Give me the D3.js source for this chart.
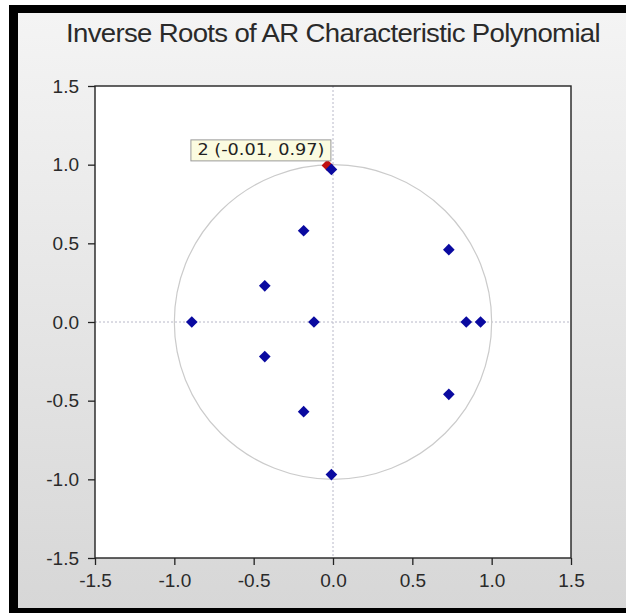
<!DOCTYPE html>
<html>
<head>
<meta charset="utf-8">
<script src="https://cdn.jsdelivr.net/npm/d3@7"></script>
<style>
  html, body { margin: 0; padding: 0; background: #fff; }
  svg { display: block; }
</style>
</head>
<body>
<div id="chart"></div>
<script>
const rootIds = [1, 2, 3, 4, 5, 6, 7, 8, 9, 10, 11, 12]
const rootRe = [-0.01, -0.01, 0.93, 0.84, 0.73, 0.73, -0.185, -0.185, -0.43, -0.43, -0.12, -0.89]
const rootIm = [-0.97, 0.97, 0.0, 0.0, 0.46, -0.46, 0.58, -0.57, 0.23, -0.22, 0.0, 0.0]
const tickValues = [-1.5, -1.0, -0.5, 0.0, 0.5, 1.0, 1.5]
const hoveredId = 2
const title = "Inverse Roots of AR Characteristic Polynomial"

const W = 626, H = 613
const plot = { left: 95, right: 571, top: 86, bottom: 558 }

const svg = d3.select("#chart").append("svg")
    .attr("width", W)
    .attr("height", H)
    .style("font-family", "'Liberation Sans', Arial, sans-serif")

const defs = svg.append("defs")
const grad = defs.append("linearGradient")
    .attr("id", "bg")
    .attr("x1", 0).attr("y1", 0).attr("x2", 0).attr("y2", 1)
grad.append("stop").attr("offset", "0%").attr("stop-color", "#f4f4f4")
grad.append("stop").attr("offset", "100%").attr("stop-color", "#d7d7d7")

// frame: black strip on top, left and bottom
svg.append("rect").attr("x", 9).attr("y", 5).attr("width", W - 9).attr("height", H - 5).attr("fill", "#000")
svg.append("rect").attr("x", 18).attr("y", 13).attr("width", W - 18).attr("height", 595).attr("fill", "url(#bg)")

svg.append("text")
    .attr("x", 333)
    .attr("y", 42)
    .attr("text-anchor", "middle")
    .attr("textLength", 534)
    .attr("lengthAdjust", "spacingAndGlyphs")
    .style("font-size", "25px")
    .style("letter-spacing", "-0.6px")
    .attr("fill", "#2a2a2a")
    .text(title)

const x = d3.scaleLinear().domain([-1.5, 1.5]).range([plot.left, plot.right])
const y = d3.scaleLinear().domain([-1.5, 1.5]).range([plot.bottom, plot.top])

svg.append("rect")
    .attr("x", plot.left)
    .attr("y", plot.top)
    .attr("width", plot.right - plot.left)
    .attr("height", plot.bottom - plot.top)
    .attr("fill", "#fff")

// zero lines
svg.append("line")
    .attr("x1", x(0)).attr("x2", x(0))
    .attr("y1", plot.top).attr("y2", plot.bottom)
    .attr("stroke", "#b8b8c8").attr("stroke-dasharray", "2,2")
svg.append("line")
    .attr("x1", plot.left).attr("x2", plot.right)
    .attr("y1", y(0)).attr("y2", y(0))
    .attr("stroke", "#b8b8c8").attr("stroke-dasharray", "2,2")

// unit circle
svg.append("ellipse")
    .attr("cx", x(0)).attr("cy", y(0))
    .attr("rx", x(1) - x(0)).attr("ry", y(0) - y(1))
    .attr("fill", "none")
    .attr("stroke", "#cbcbcb")
    .attr("stroke-width", 1.2)

// axes
const fmt = d => d3.format(".1f")(d).replace("−", "-")
const xAxis = svg.append("g")
    .attr("transform", `translate(0,${plot.bottom})`)
    .call(d3.axisBottom(x).tickValues(tickValues).tickFormat(fmt).tickSize(7).tickPadding(9))
const yAxis = svg.append("g")
    .attr("transform", `translate(${plot.left},0)`)
    .call(d3.axisLeft(y).tickValues(tickValues).tickFormat(fmt).tickSize(7).tickPadding(9))

for (const g of [xAxis, yAxis]) {
    g.select(".domain").remove()
    g.selectAll(".tick line").attr("stroke", "#222").attr("stroke-width", 1.3)
    g.selectAll(".tick text")
        .attr("fill", "#2a2a2a")
        .style("font-family", "'Liberation Sans', Arial, sans-serif")
        .style("font-size", "19px")
}

svg.append("rect")
    .attr("x", plot.left)
    .attr("y", plot.top)
    .attr("width", plot.right - plot.left)
    .attr("height", plot.bottom - plot.top)
    .attr("fill", "none")
    .attr("stroke", "#222")
    .attr("stroke-width", 1.4)

const roots = rootIds.map((id, i) => ({ id, re: rootRe[i], im: rootIm[i] }))
const diamond = d3.symbol().type(d3.symbolSquare).size(68)

// hover highlight behind the selected root
const hovered = roots.find(d => d.id === hoveredId)
svg.append("path")
    .attr("d", diamond())
    .attr("transform", `translate(${x(hovered.re) - 4},${y(hovered.im) - 4}) rotate(45)`)
    .attr("fill", "#c01010")

svg.append("g")
    .selectAll("path")
    .data(roots)
    .join("path")
    .attr("d", diamond())
    .attr("transform", d => `translate(${x(d.re)},${y(d.im)}) rotate(45)`)
    .attr("fill", "#0a0aa0")

// tooltip
const tipText = `${hovered.id}  (${hovered.re.toFixed(2)}, ${hovered.im.toFixed(2)})`
const tip = svg.append("g")
    .attr("transform", `translate(${x(hovered.re) - 141},${y(hovered.im) - 30})`)
tip.append("rect")
    .attr("x", 0.5).attr("y", 0.5)
    .attr("width", 140).attr("height", 21)
    .attr("fill", "#fbfbe0")
    .attr("stroke", "#9a9a9a")
tip.append("text")
    .attr("x", 7)
    .attr("y", 16)
    .attr("textLength", 127)
    .attr("lengthAdjust", "spacingAndGlyphs")
    .style("font-family", "'DejaVu Sans', Tahoma, sans-serif")
    .style("font-size", "15px")
    .attr("fill", "#222")
    .text(tipText)
</script>
</body>
</html>
